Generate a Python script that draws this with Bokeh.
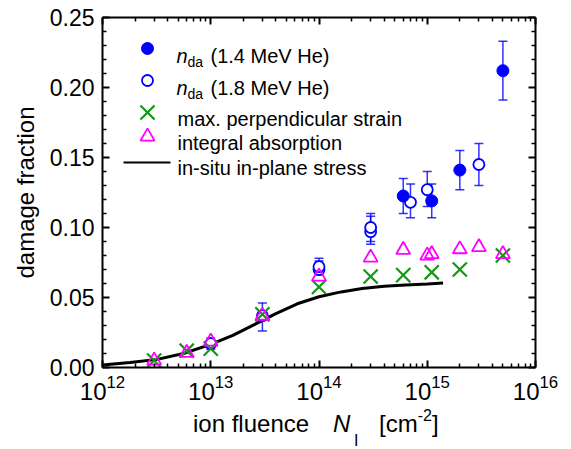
from bokeh.plotting import figure
from bokeh.models import (LogAxis, LinearAxis, FixedTicker, Label, Whisker,
                          TeeHead, ColumnDataSource, Range1d, Div)
from bokeh.layouts import column
from bokeh.embed import file_html
from bokeh.resources import INLINE

# ---- data -----------------------------------------------------------------
# n_da from 1.4 MeV He (filled circles)
f14_x = [6e14, 1.1e15, 2e15, 5e15]
f14_y = [0.1225, 0.119, 0.141, 0.212]
f14_lo = [0.110, 0.107, 0.127, 0.191]
f14_hi = [0.135, 0.131, 0.155, 0.233]

# n_da from 1.8 MeV He (open circles)
f18_x = [1e13, 3e13, 1e14, 1e14, 3e14, 3e14, 7e14, 1e15, 3e15]
f18_y = [0.017, 0.037, 0.070, 0.072, 0.097, 0.100, 0.118, 0.127, 0.145]
f18_lo = [0.013, 0.026, 0.066, 0.067, 0.088, 0.090, 0.107, 0.115, 0.130]
f18_hi = [0.021, 0.046, 0.076, 0.078, 0.108, 0.110, 0.131, 0.140, 0.160]

# maximum perpendicular strain
strain_x = [3e12, 6e12, 1e13, 3e13, 1e14, 3e14, 6e14, 1.1e15, 2e15, 5e15]
strain_y = [0.005, 0.012, 0.0135, 0.038, 0.0575, 0.065, 0.066, 0.068, 0.070, 0.080]

# integral absorption
absorb_x = [3e12, 6e12, 1e13, 3e13, 1e14, 3e14, 6e14, 1e15, 1.1e15, 2e15, 3e15, 5e15]
absorb_y = [0.005, 0.0105, 0.0185, 0.037, 0.065, 0.0785, 0.084, 0.080, 0.081, 0.0845, 0.086, 0.081]

# in-situ in-plane stress curve
stress_x = [1e12, 1.8e12, 3.2e12, 5.6e12, 1e13, 1.6e13, 2.5e13, 4e13, 6.3e13,
            1e14, 1.6e14, 2.5e14, 4e14, 6.3e14, 1e15, 1.4e15]
stress_y = [0.0018, 0.0035, 0.0058, 0.0100, 0.0165, 0.0230, 0.0305, 0.0385, 0.0455,
            0.0505, 0.0540, 0.0565, 0.0580, 0.0590, 0.0597, 0.0603]

x_ticks = [1e12, 1e13, 1e14, 1e15, 1e16]
y_ticks = [0.0, 0.05, 0.10, 0.15, 0.20, 0.25]
y_tick_labels = ["0.00", "0.05", "0.10", "0.15", "0.20", "0.25"]

BLUE = "#0000ff"
GREEN = "#119911"
MAGENTA = "#ff00ff"
FONT = "Liberation Sans"

# ---- figure -----------------------------------------------------------------
PLOT_H = 407
p = figure(width=571, height=PLOT_H, x_axis_type="log",
           x_range=Range1d(1e12, 1e16), y_range=Range1d(0, 0.25),
           output_backend="svg", toolbar_location=None,
           min_border_left=102, min_border_right=36,
           min_border_top=17, min_border_bottom=40)
p.outline_line_color = None
p.grid.visible = False
p.background_fill_color = "white"
p.border_fill_color = "white"

minor_x = [k * 10.0 ** e for e in range(12, 16) for k in range(2, 10)]
minor_y = [i / 100 for i in range(0, 26) if i % 5]

def style_axis(ax, size=None):
    ax.axis_line_width = 2
    ax.major_tick_line_width = 2
    ax.minor_tick_line_width = 1.5
    ax.major_tick_in = 7
    ax.major_tick_out = 0
    ax.minor_tick_in = 4
    ax.minor_tick_out = 0
    ax.major_label_text_font = FONT
    ax.major_label_text_color = "black"
    if size:
        ax.major_label_text_font_size = size
    else:
        ax.major_label_text_font_size = "1px"
        ax.major_label_text_alpha = 0
        ax.major_label_standoff = 0

# bottom / left axes
xa = p.xaxis[0]
xa.ticker = FixedTicker(ticks=x_ticks, minor_ticks=minor_x)
style_axis(xa, "24px")
xa.major_label_standoff = 7

ya = p.yaxis[0]
ya.ticker = FixedTicker(ticks=y_ticks, minor_ticks=minor_y)
ya.major_label_overrides = {t: s for t, s in zip(y_ticks, y_tick_labels)}
style_axis(ya, "23px")
ya.major_label_standoff = 8
ya.axis_label = "damage fraction"
ya.axis_label_text_font = FONT
ya.axis_label_text_font_size = "24px"
ya.axis_label_text_font_style = "normal"
ya.axis_label_text_color = "black"
ya.axis_label_standoff = 8

# mirrored top / right axes, ticks only
top = LogAxis(ticker=FixedTicker(ticks=x_ticks, minor_ticks=minor_x))
style_axis(top)
p.add_layout(top, "above")
right = LinearAxis(ticker=FixedTicker(ticks=y_ticks, minor_ticks=minor_y))
style_axis(right)
p.add_layout(right, "right")

# ---- data marks ---------------------------------------------------------------
p.line(stress_x, stress_y, line_color="black", line_width=3)

src14 = ColumnDataSource(dict(x=f14_x, y=f14_y, lo=f14_lo, hi=f14_hi))
src18 = ColumnDataSource(dict(x=f18_x, y=f18_y, lo=f18_lo, hi=f18_hi))
for src in (src18, src14):
    p.add_layout(Whisker(source=src, base="x", lower="lo", upper="hi",
                         dimension="height", line_color=BLUE, line_width=1.5,
                         line_alpha=0.8,
                         upper_head=TeeHead(size=9, line_color=BLUE, line_width=1.5, line_alpha=0.8),
                         lower_head=TeeHead(size=9, line_color=BLUE, line_width=1.5, line_alpha=0.8)))

p.scatter("x", "y", source=src18, marker="circle", size=11, fill_color="white",
          line_color=BLUE, line_width=1.8)
p.scatter("x", "y", source=src14, marker="circle", size=12, fill_color=BLUE,
          line_color=BLUE)
p.scatter(strain_x, strain_y, marker="x", size=20, line_color=GREEN, line_width=2.2)
p.scatter(absorb_x, absorb_y, marker="triangle", size=14, fill_color=None,
          line_color=MAGENTA, line_width=1.8)

# ---- legend (drawn by hand so the subscripts can be typeset) -----------------
X0, X1, Y0, Y1 = 102, 535, 17, 367   # frame edges in canvas pixels

def px_x(px):
    return 10 ** (12 + 4 * (px - X0) / (X1 - X0))

def px_y(py):
    return 0.25 * (Y1 - py) / (Y1 - Y0)

mx = px_x(147)
p.scatter([mx], [px_y(48)], marker="circle", size=12, fill_color=BLUE, line_color=BLUE)
p.scatter([mx], [px_y(80)], marker="circle", size=11, fill_color="white",
          line_color=BLUE, line_width=1.8)
p.scatter([mx], [px_y(112)], marker="x", size=20, line_color=GREEN, line_width=2.2)
p.scatter([mx], [px_y(136)], marker="triangle", size=14, fill_color=None,
          line_color=MAGENTA, line_width=1.8)
p.line([px_x(123), px_x(170)], [px_y(162)] * 2, line_color="black", line_width=2)

def text(s, px, baseline, size, style="normal"):
    p.add_layout(Label(x=px - X0, y=Y1 - baseline, x_units="screen", y_units="screen",
                       text=s, text_font=FONT, text_font_size=f"{size}px",
                       text_font_style=style, text_baseline="alphabetic",
                       text_align="left", text_color="black"))

for base, energy in ((55, "(1.4 MeV He)"), (87, "(1.8 MeV He)")):
    text("n", 176, base, 20, "italic")
    text("da", 187, base + 6, 14)
    text(energy, 210, base, 20)
text("max. perpendicular strain", 177, 118, 20)
text("integral absorption", 177, 142, 20)
text("in-situ in-plane stress", 177, 167, 20)

# ---- x axis title: ion fluence  N_I  [cm^-2], set as HTML under the plot ------
def piece(html, left, top, size):
    return (f'<span style="position:absolute;left:{left}px;top:{top}px;'
            f'font-size:{size}px;line-height:{size}px;white-space:nowrap">{html}</span>')

title_html = (
    '<div style="position:relative;width:571px;height:42px;'
    "font-family:'Liberation Sans',Arial,sans-serif;color:black\">"
    + piece("ion fluence", 193, 5, 24)
    + piece("<i>N</i>", 333, 5, 24)
    + piece("I", 354, 26, 16)
    + piece('[cm<span style="font-size:16px;position:relative;top:-11px">-2</span>]', 379, 5, 24)
    + "</div>"
)
xtitle = Div(text=title_html, width=571, height=42, margin=0)

layout = column(p, xtitle, spacing=0)
open("out.html", "w").write(file_html(layout, INLINE))
